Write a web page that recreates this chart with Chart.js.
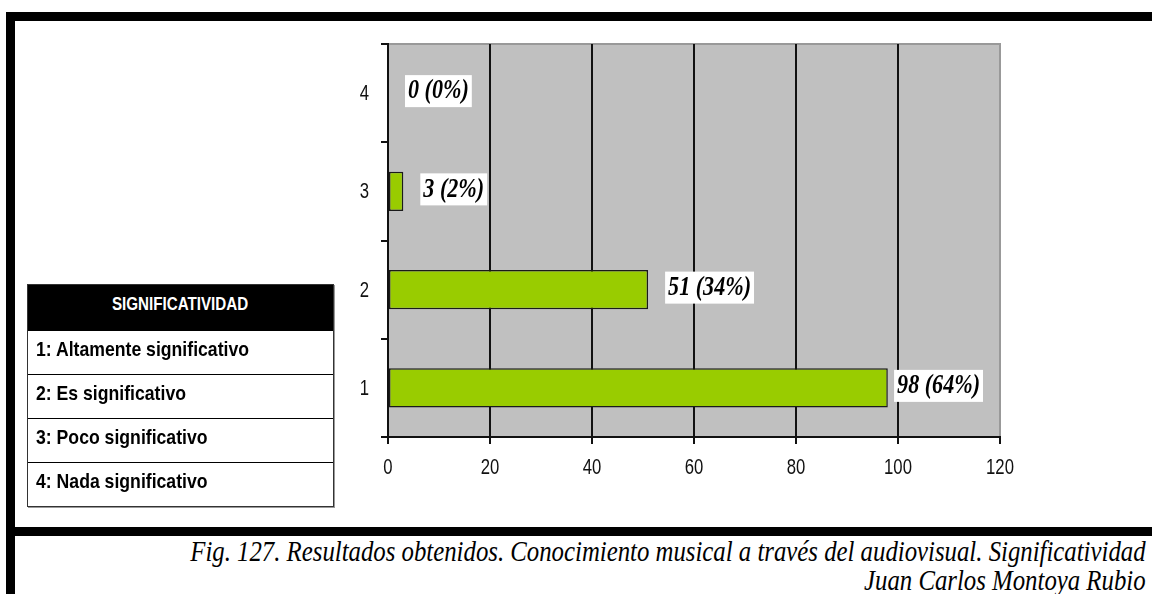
<!DOCTYPE html>
<html lang="es">
<head>
<meta charset="utf-8">
<title>Significatividad</title>
<script src="https://cdn.jsdelivr.net/npm/chart.js@4/dist/chart.umd.min.js"></script>
<style>
  html, body { margin: 0; padding: 0; background: #fff; }
  body { width: 1152px; height: 594px; position: relative; overflow: hidden; }
  .bar { position: absolute; background: #000; }
  #chartBox { position: absolute; left: 300px; top: 20px; width: 720px; height: 480px; }
  #levels {
    position: absolute; left: 27px; top: 284px; width: 307px; height: 223px;
    box-sizing: border-box; border: 1px solid #333; box-shadow: 1px 1px 0 #999;
    display: flex; flex-direction: column;
  }
  #levels .row {
    flex: 1 1 0; box-sizing: border-box; border-top: 1px solid #000;
    font: bold 21px "Liberation Sans", Arial, sans-serif; line-height: 21px;
    padding: 7px 0 0 8px; white-space: nowrap; color: #000;
  }
  #levels .row span { display: inline-block; transform: scaleX(0.84); transform-origin: left center; }
  #levels .head {
    flex: 1 1 0; background: #000; color: #fff; text-align: center;
    font: bold 18.5px "Liberation Sans", Arial, sans-serif; line-height: 19px;
    padding-top: 9px; box-sizing: border-box; white-space: nowrap;
  }
  #levels .head span { display: inline-block; transform: scaleX(0.82); transform-origin: center center; }
  #caption {
    position: absolute; right: 6px; top: 536px; text-align: right;
    font: italic 30px "Liberation Serif", "Times New Roman", serif; line-height: 29px;
    transform: scaleX(0.826); transform-origin: right top; white-space: nowrap; color: #000;
  }
</style>
</head>
<body>
<div class="bar" style="left:6px; top:12px; width:1146px; height:9px;"></div>
<div class="bar" style="left:6px; top:12px; width:9px; height:582px;"></div>
<div class="bar" style="left:6px; top:527px; width:1146px; height:9px;"></div>

<div id="chartBox"><canvas id="chart"></canvas></div>

<div id="levels"></div>

<div id="caption">
  <div>Fig. 127. Resultados obtenidos. Conocimiento musical a través del audiovisual. Significatividad</div>
  <div>Juan Carlos Montoya Rubio</div>
</div>

<script>
// Response categories (1 = highest significance) and their meaning
const categories = ['1', '2', '3', '4'];
const levelNames = ['Altamente significativo', 'Es significativo', 'Poco significativo', 'Nada significativo'];
const tableTitle = 'SIGNIFICATIVIDAD';

// Number of answers per category and the share each represents
const counts = [98, 51, 3, 0];
const percents = [64, 34, 2, 0];

// Value axis ticks
const xTickValues = [0, 20, 40, 60, 80, 100, 120];

// Key table on the left
const levels = document.getElementById('levels');
const head = document.createElement('div');
head.className = 'head';
const headSpan = document.createElement('span');
headSpan.textContent = tableTitle;
head.appendChild(headSpan);
levels.appendChild(head);
categories.forEach((c, i) => {
  const row = document.createElement('div');
  row.className = 'row';
  const span = document.createElement('span');
  span.textContent = c + ': ' + levelNames[i];
  row.appendChild(span);
  levels.appendChild(row);
});

const LABEL_SQUEEZE = 0.79;
const TICK_SQUEEZE = 0.76;

// Draw text narrowed horizontally around its anchor point
function squeezedText(ctx, text, x, y, align, k) {
  ctx.save();
  ctx.translate(x, y);
  ctx.scale(k, 1);
  ctx.textAlign = align;
  ctx.fillText(text, 0, 0);
  ctx.restore();
}

// Grey plot background with a grey top edge
const plotFrame = {
  id: 'plotFrame',
  beforeDraw(chart) {
    const { ctx, chartArea: a } = chart;
    ctx.save();
    ctx.fillStyle = '#C0C0C0';
    ctx.fillRect(a.left, a.top, a.right - a.left, a.bottom - a.top);
    ctx.strokeStyle = '#999';
    ctx.lineWidth = 2;
    ctx.beginPath();
    ctx.moveTo(a.left, a.top);
    ctx.lineTo(a.right + 1, a.top);
    ctx.stroke();
    ctx.restore();
  }
};

// Narrow tick labels for both axes, placed from the scales' own ticks
const axisLabels = {
  id: 'axisLabels',
  afterDraw(chart) {
    const { ctx, scales: { x, y } } = chart;
    ctx.save();
    ctx.font = '22px "Liberation Sans", Arial, sans-serif';
    ctx.fillStyle = '#111';
    ctx.textBaseline = 'alphabetic';
    x.ticks.forEach(t => {
      squeezedText(ctx, t.label, x.getPixelForValue(t.value), x.top + 37, 'center', TICK_SQUEEZE);
    });
    y.ticks.forEach((t, i) => {
      squeezedText(ctx, t.label, y.right - 19, y.getPixelForTick(i) + 7, 'right', TICK_SQUEEZE);
    });
    ctx.restore();
  }
};

// White boxed "n (p%)" labels beside each bar
const valueLabels = {
  id: 'valueLabels',
  afterDatasetsDraw(chart) {
    const { ctx, chartArea: a } = chart;
    const meta = chart.getDatasetMeta(0);
    ctx.save();
    ctx.font = 'italic bold 28px "Liberation Serif", "Times New Roman", serif';
    ctx.textBaseline = 'middle';
    meta.data.forEach((bar, i) => {
      const text = counts[i] + ' (' + percents[i] + '%)';
      const w = ctx.measureText(text).width * LABEL_SQUEEZE;
      const boxW = w + 6, boxH = 32;
      const x = Math.min(bar.x + 17, a.right - 17 - boxW);
      const y = bar.y - 2;
      ctx.fillStyle = '#fff';
      ctx.fillRect(x, y - boxH / 2, boxW, boxH);
      ctx.fillStyle = '#000';
      squeezedText(ctx, text, x + 3, y, 'left', LABEL_SQUEEZE);
    });
    ctx.restore();
  }
};

new Chart(document.getElementById('chart'), {
  type: 'bar',
  data: {
    labels: categories,
    datasets: [{
      data: counts,
      backgroundColor: '#99CC00',
      borderColor: '#1a1a1a',
      borderWidth: 1.5,
      borderSkipped: false,
      categoryPercentage: 1,
      barPercentage: 0.4
    }]
  },
  options: {
    indexAxis: 'y',
    responsive: true,
    maintainAspectRatio: false,
    devicePixelRatio: 1,
    animation: false,
    layout: { padding: { top: 24, right: 20, bottom: 0, left: 0 } },
    plugins: { legend: { display: false }, tooltip: { enabled: false } },
    scales: {
      x: {
        min: 0,
        max: 120,
        afterBuildTicks: s => { s.ticks = xTickValues.map(v => ({ value: v })); },
        ticks: { display: false },
        grid: {
          color: c => (c.tick && c.tick.value === 120 ? '#999' : '#111'),
          lineWidth: 2,
          tickColor: '#111',
          tickLength: 7
        },
        border: { color: '#111', width: 2 },
        afterFit: s => { s.height = 63; s.paddingLeft = 0; s.paddingRight = 0; }
      },
      y: {
        reverse: true,
        ticks: { display: false },
        grid: { offset: true, drawOnChartArea: false, tickColor: '#111', tickLength: 7, lineWidth: 2 },
        border: { color: '#111', width: 2 },
        afterFit: s => { s.width = 88; s.paddingTop = 0; s.paddingBottom = 0; }
      }
    }
  },
  plugins: [plotFrame, valueLabels, axisLabels]
});
</script>
</body>
</html>
